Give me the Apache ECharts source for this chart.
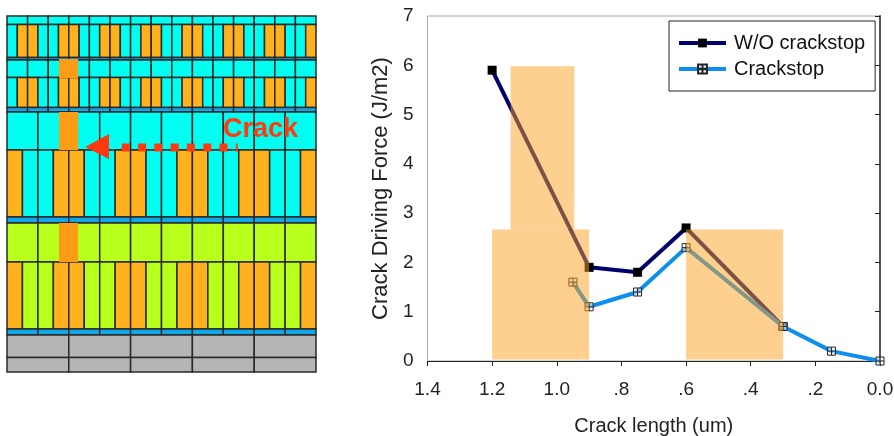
<!DOCTYPE html>
<html><head><meta charset="utf-8">
<style>html,body{margin:0;padding:0;background:#fff}#c{width:894px;height:436px}</style>
<script src="https://cdn.jsdelivr.net/npm/echarts@6/dist/echarts.min.js"></script>
</head><body><div id="c"></div>
<script>
// ---- chart data
const xTickLabels = {'1.4':'1.4','1.2':'1.2','1':'1.0','0.8':'.8','0.6':'.6','0.4':'.4','0.2':'.2','0':'0.0'};
const withoutCrackstop = [[1.2,5.9],[0.9,1.9],[0.75,1.8],[0.6,2.7],[0.3,0.7]];
const crackstop = [[0.95,1.6],[0.9,1.1],[0.75,1.4],[0.6,2.3],[0.3,0.7],[0.15,0.2],[0,0]];
// highlighted zones: [x from, x to, y bottom, y top]
const zones = [[1.143,0.946,2.67,5.98],[1.2,0.9,0.03,2.67],[0.6,0.3,0.03,2.67]];
// ---- cross-section diagram: [top, bottom, cell count, pattern]
const C='cyan',O='orange',G='green',B='band',D='gray';
const wide30 = [C,O,O,C,C,O,O,C,C,O,O,C,C,O,O,C,C,O,O,C,C,O,O,C,C,O,O,C,C,O];
const layers = [
 [0,8.5,15,[C]],[8.5,41.5,30,wide30],[41.5,44,15,[B]],[44,61.5,15,[C]],[61.5,91.5,30,wide30],
 [91.5,96,15,[B]],[96,134,10,[C]],[134,201,20,[O,C,C,O]],[201,207,10,[B]],
 [207,246,10,[G]],[246,313,20,[O,G,G,O]],[313,319,10,[B]],[319,341.5,5,[D]],[341.5,356,5,[D]]
];
const blocks = [[5.05,6.9,43,62],[5.05,6.9,96,134],[5.05,6.9,207,246]];
const crackPath = [[11.14,131.5],[22.4,131.5]];
const arrowHead = [[7.6,131],[9.9,118],[9.9,143]];

const fills = {cyan:'#00fff0',orange:'#ffb21e',green:'#b9ff1c',band:'#12a8e8',gray:'#b5b5b5'};
const cells = [];
layers.forEach(([t,b,n,p])=>{for(let i=0;i<n;i++)cells.push([i*30/n,(i+1)*30/n,t,b,p[i%p.length]]);});

const font='"Liberation Sans",Arial,sans-serif';
function rectOf(api,x0,x1,y0,y1){
  const a=api.coord([x0,y0]),b=api.coord([x1,y1]);
  return {x:Math.min(a[0],b[0]),y:Math.min(a[1],b[1]),width:Math.abs(b[0]-a[0]),height:Math.abs(b[1]-a[1])};
}
const crossMark='path://M0 0H8V8H0Z M0 4H8 M4 0V8';
const chart=echarts.init(document.getElementById('c'),null,{renderer:'canvas'});
chart.setOption({
  animation:false,
  backgroundColor:'#fff',
  grid:[
    {left:427.5,right:14,top:16,bottom:75,outerBoundsMode:'none',show:true,borderColor:'#a8a8a8',borderWidth:1,backgroundColor:'transparent'},
    {left:7,top:16,width:309,height:356,outerBoundsMode:'none'}
  ],
  legend:{
    left:669,top:21,orient:'vertical',
    padding:[12,10,12,8],itemGap:6,itemWidth:47,itemHeight:11,
    lineStyle:{width:4},
    backgroundColor:'#fff',borderColor:'#222',borderWidth:1,
    textStyle:{fontFamily:font,fontSize:20,color:'#111',padding:[0,0,0,3]},
    data:['W/O crackstop','Crackstop']
  },
  xAxis:[
    {type:'value',gridIndex:0,inverse:true,min:0,max:1.4,interval:0.2,
     name:'Crack length (um)',nameLocation:'middle',nameGap:55,
     nameTextStyle:{fontFamily:font,fontSize:20,color:'#222'},
     axisLine:{lineStyle:{color:'#222',width:1}},axisTick:{show:true,length:5,lineStyle:{color:'#222'}},
     splitLine:{show:false},
     axisLabel:{fontFamily:font,fontSize:19,color:'#222',margin:19,hideOverlap:false,showMinLabel:true,showMaxLabel:true,
       formatter:v=>xTickLabels[String(+v.toFixed(1))]}},
    {type:'value',gridIndex:1,min:0,max:30,show:false}
  ],
  yAxis:[
    {type:'value',gridIndex:0,min:0,max:7,interval:1,
     name:'Crack Driving Force (J/m2)',nameLocation:'middle',nameGap:35,
     nameTextStyle:{fontFamily:font,fontSize:22,color:'#222'},
     axisLine:{show:true,lineStyle:{color:'#444',width:1}},axisTick:{show:true,length:5,lineStyle:{color:'#222'}},
     splitLine:{show:false},
     axisLabel:{fontFamily:font,fontSize:19,color:'#222',margin:14}},
    {type:'value',gridIndex:1,min:0,max:356,inverse:true,show:false},
    {type:'value',gridIndex:0,position:'right',min:0,max:7,interval:7,
     axisLine:{show:true,lineStyle:{color:'#555',width:2}},axisTick:{show:false},axisLabel:{show:false},splitLine:{show:false}}
  ],
  series:[
    {name:'W/O crackstop',type:'line',xAxisIndex:0,yAxisIndex:0,data:withoutCrackstop,z:3,
     symbol:'rect',symbolSize:9,showSymbol:true,
     lineStyle:{color:'#00006e',width:4},itemStyle:{color:'#000'}},
    {name:'Crackstop',type:'line',xAxisIndex:0,yAxisIndex:0,data:crackstop,z:4,
     symbol:crossMark,symbolSize:8,
     lineStyle:{color:'#0c8fef',width:4},
     itemStyle:{color:'rgba(255,255,255,0.55)',borderColor:'#222',borderWidth:1}},
    {type:'custom',xAxisIndex:0,yAxisIndex:0,z:6,silent:true,coordinateSystem:'cartesian2d',
     data:zones,encode:{x:[0,1],y:[2,3]},
     renderItem:(p,api)=>({type:'rect',
       shape:rectOf(api,api.value(0),api.value(1),api.value(2),api.value(3)),
       style:{fill:'rgba(251,161,31,0.5)'}})},
    {type:'custom',xAxisIndex:1,yAxisIndex:1,z:2,silent:true,coordinateSystem:'cartesian2d',
     data:cells,encode:{x:[0,1],y:[2,3]},
     renderItem:(p,api)=>({type:'rect',
       shape:rectOf(api,api.value(0),api.value(1),api.value(2),api.value(3)),
       style:{fill:fills[cells[p.dataIndex][4]],stroke:'#2a2a2a',lineWidth:1.5}})},
    {type:'custom',xAxisIndex:1,yAxisIndex:1,z:3,silent:true,coordinateSystem:'cartesian2d',
     data:blocks,encode:{x:[0,1],y:[2,3]},
     renderItem:(p,api)=>({type:'rect',
       shape:rectOf(api,api.value(0),api.value(1),api.value(2),api.value(3)),
       style:{fill:'#ff9c16'}})},
    {type:'line',xAxisIndex:1,yAxisIndex:1,z:4,data:crackPath,symbol:'none',silent:true,
     lineStyle:{color:'#ff3a10',width:8,type:[8,8.3]}},
    {type:'custom',xAxisIndex:1,yAxisIndex:1,z:5,silent:true,coordinateSystem:'cartesian2d',
     data:[0],
     renderItem:(p,api)=>({type:'group',children:[
       {type:'polygon',shape:{points:arrowHead.map(q=>api.coord(q))},style:{fill:'#ff3a10'}},
       {type:'text',x:223,y:116,style:{text:'Crack',fontFamily:font,fontWeight:'bold',fontSize:27,fill:'#ff3a10'}}
     ]})}
  ]
});
</script></body></html>
